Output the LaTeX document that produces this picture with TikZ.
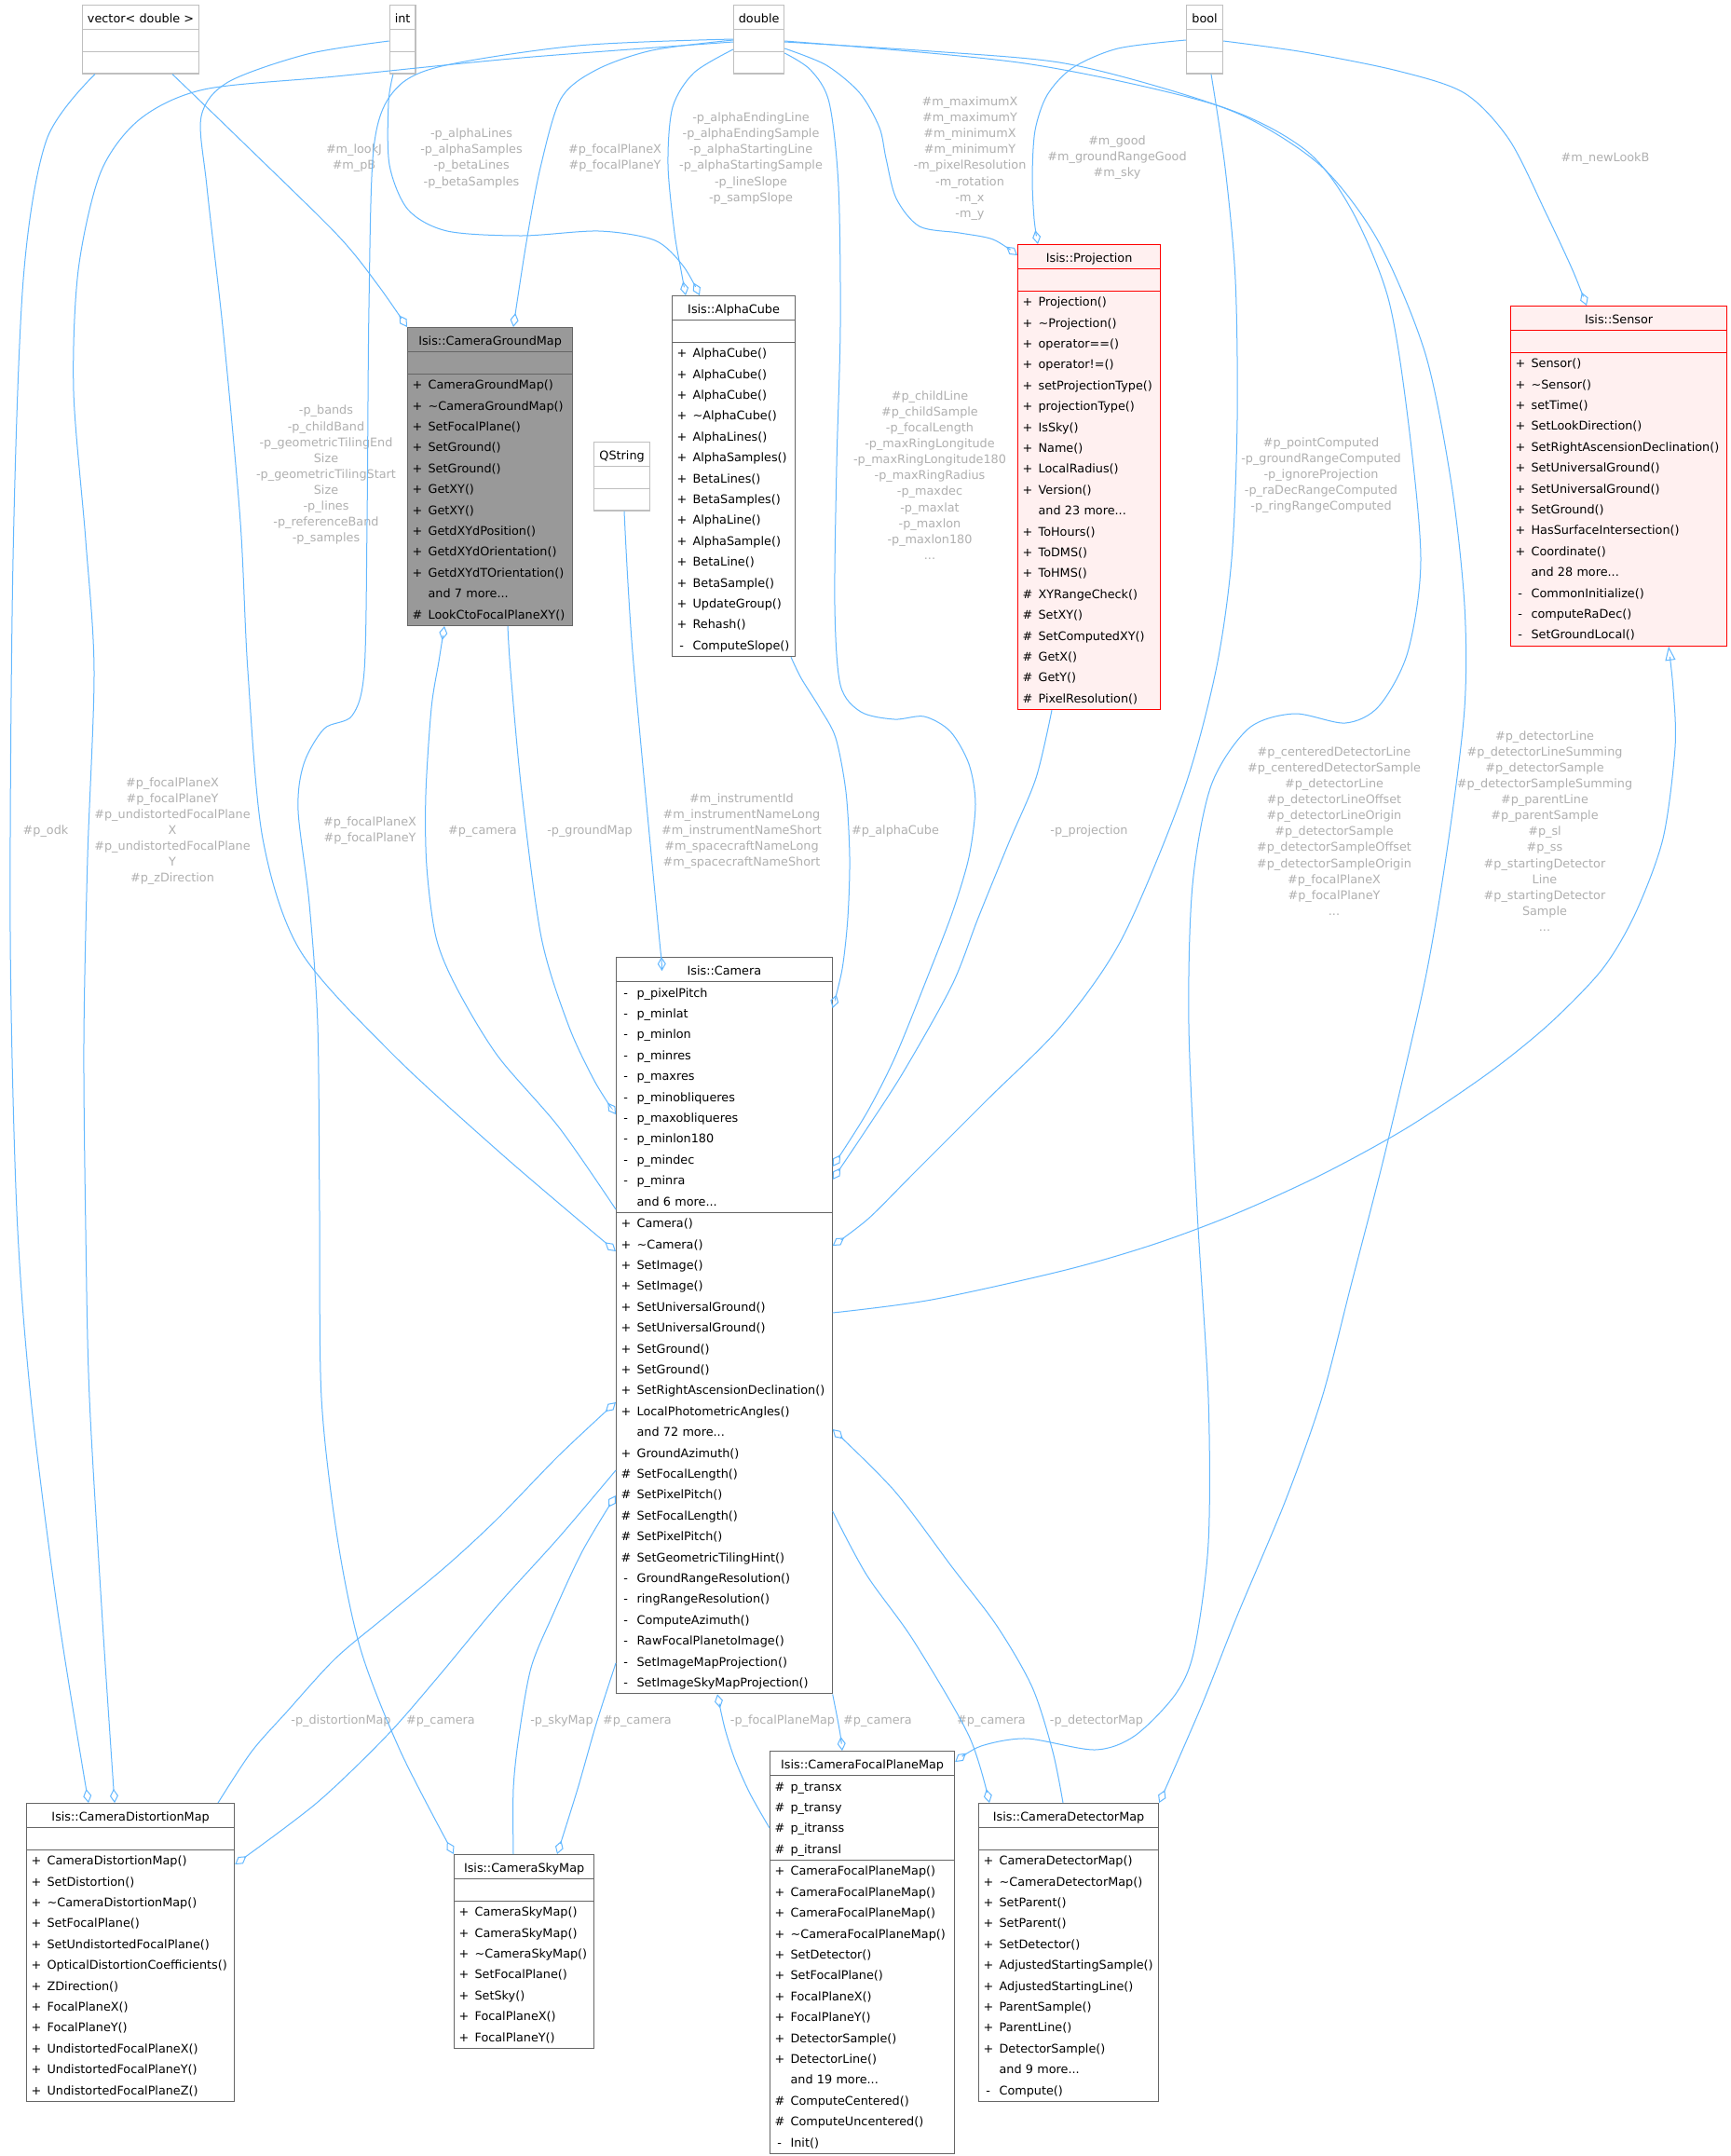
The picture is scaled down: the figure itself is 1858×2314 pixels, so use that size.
\documentclass[tikz,border=0pt]{standalone}
\usepackage{fontspec}
\setmainfont{DejaVu Sans}
\usetikzlibrary{shapes.multipart,arrows.meta}

\definecolor{edgeblue}{HTML}{63B8FF}
\definecolor{lblgrey}{HTML}{B0B0B0}
\definecolor{boxgrey}{HTML}{666666}
\definecolor{undocgrey}{HTML}{BFBFBF}
\definecolor{hlgrey}{HTML}{999999}
\definecolor{extred}{HTML}{FF0000}
\definecolor{extfill}{HTML}{FFF0F0}

\newcommand{\rowstrut}{\rule[-3.35pt]{0pt}{11.2pt}}
\newcommand{\titlestrut}{\rule[-3.5pt]{0pt}{12.5pt}}
\newcommand{\mrow}[2]{\rowstrut\makebox[8.5pt][l]{#1}#2}
\newcommand{\vpriv}{\hspace{1.4pt}-}
\newcommand{\boxtitle}[1]{\hfill\titlestrut #1\hfill\null}

\tikzset{
  classbox/.style={rectangle split, rectangle split parts=3, draw=boxgrey, line width=0.6pt,
    fill=white, inner xsep=2.5pt, inner ysep=0pt, anchor=north west, align=left,
    font=\fontsize{6.4}{11.2}\selectfont},
  typebox/.style={classbox, draw=undocgrey, inner xsep=0pt},
  extbox/.style={classbox, draw=extred, fill=extfill},
  mainbox/.style={classbox, fill=hlgrey},
  agg/.style={draw=edgeblue, line width=0.5pt, -{Diamond[open,length=7.5pt,width=4.5pt]}},
  inh/.style={draw=edgeblue, line width=0.5pt, -{Triangle[open,length=7.5pt,width=5.5pt]}},
  lbl/.style={text=lblgrey, align=center, inner sep=0pt, font=\fontsize{6.4}{8.55}\selectfont}
}

\begin{document}
\begin{tikzpicture}[x=0.5pt, y=-0.5pt]
\fill[white] (0,0) rectangle (1858,2314);
\useasboundingbox (0,0) rectangle (1858,2314);

% plain types
\node[typebox, text width=62.5pt] (vecd) at (88,5) {\boxtitle{vector< double >}\nodepart{two}\rowstrut\nodepart{three}\rowstrut};
\node[typebox, text width=13.8pt] (intt) at (417.7,5) {\boxtitle{int}\nodepart{two}\rowstrut\nodepart{three}\rowstrut};
\node[typebox, text width=27pt] (dbl) at (787,5) {\boxtitle{double}\nodepart{two}\rowstrut\nodepart{three}\rowstrut};
\node[typebox, text width=19.5pt] (boolt) at (1273,5) {\boxtitle{bool}\nodepart{two}\rowstrut\nodepart{three}\rowstrut};
\node[typebox, text width=30pt] (qstr) at (637,474) {\boxtitle{QString}\nodepart{two}\rowstrut\nodepart{three}\rowstrut};

% classes
\node[mainbox, text width=83.5pt] (gmap) at (437,351) {\boxtitle{Isis::CameraGroundMap}
  \nodepart{two}\rowstrut
  \nodepart{three}\mrow{+}{CameraGroundMap()}\\\mrow{+}{\textasciitilde CameraGroundMap()}\\\mrow{+}{SetFocalPlane()}\\
  \mrow{+}{SetGround()}\\\mrow{+}{SetGround()}\\\mrow{+}{GetXY()}\\\mrow{+}{GetXY()}\\\mrow{+}{GetdXYdPosition()}\\
  \mrow{+}{GetdXYdOrientation()}\\\mrow{+}{GetdXYdTOrientation()}\\\mrow{}{and 7 more...}\\\mrow{\#}{LookCtoFocalPlaneXY()}};

\node[classbox, text width=61pt] (acube) at (721,317) {\boxtitle{Isis::AlphaCube}
  \nodepart{two}\rowstrut
  \nodepart{three}\mrow{+}{AlphaCube()}\\\mrow{+}{AlphaCube()}\\\mrow{+}{AlphaCube()}\\\mrow{+}{\textasciitilde AlphaCube()}\\
  \mrow{+}{AlphaLines()}\\\mrow{+}{AlphaSamples()}\\\mrow{+}{BetaLines()}\\\mrow{+}{BetaSamples()}\\
  \mrow{+}{AlphaLine()}\\\mrow{+}{AlphaSample()}\\\mrow{+}{BetaLine()}\\\mrow{+}{BetaSample()}\\
  \mrow{+}{UpdateGroup()}\\\mrow{+}{Rehash()}\\\mrow{\vpriv}{ComputeSlope()}};

\node[extbox, text width=71.5pt] (proj) at (1092,262) {\boxtitle{Isis::Projection}
  \nodepart{two}\rowstrut
  \nodepart{three}\mrow{+}{Projection()}\\\mrow{+}{\textasciitilde Projection()}\\\mrow{+}{operator==()}\\\mrow{+}{operator!=()}\\
  \mrow{+}{setProjectionType()}\\\mrow{+}{projectionType()}\\\mrow{+}{IsSky()}\\\mrow{+}{Name()}\\
  \mrow{+}{LocalRadius()}\\\mrow{+}{Version()}\\\mrow{}{and 23 more...}\\\mrow{+}{ToHours()}\\
  \mrow{+}{ToDMS()}\\\mrow{+}{ToHMS()}\\\mrow{\#}{XYRangeCheck()}\\\mrow{\#}{SetXY()}\\
  \mrow{\#}{SetComputedXY()}\\\mrow{\#}{GetX()}\\\mrow{\#}{GetY()}\\\mrow{\#}{PixelResolution()}};

\node[extbox, text width=111pt] (sensor) at (1621,328) {\boxtitle{Isis::Sensor}
  \nodepart{two}\rowstrut
  \nodepart{three}\mrow{+}{Sensor()}\\\mrow{+}{\textasciitilde Sensor()}\\\mrow{+}{setTime()}\\\mrow{+}{SetLookDirection()}\\
  \mrow{+}{SetRightAscensionDeclination()}\\\mrow{+}{SetUniversalGround()}\\\mrow{+}{SetUniversalGround()}\\
  \mrow{+}{SetGround()}\\\mrow{+}{HasSurfaceIntersection()}\\\mrow{+}{Coordinate()}\\\mrow{}{and 28 more...}\\
  \mrow{\vpriv}{CommonInitialize()}\\\mrow{\vpriv}{computeRaDec()}\\\mrow{\vpriv}{SetGroundLocal()}};

\node[classbox, text width=110.75pt] (cam) at (661,1027) {\boxtitle{Isis::Camera}
  \nodepart{two}\mrow{\vpriv}{p\_pixelPitch}\\\mrow{\vpriv}{p\_minlat}\\\mrow{\vpriv}{p\_minlon}\\\mrow{\vpriv}{p\_minres}\\
  \mrow{\vpriv}{p\_maxres}\\\mrow{\vpriv}{p\_minobliqueres}\\\mrow{\vpriv}{p\_maxobliqueres}\\\mrow{\vpriv}{p\_minlon180}\\
  \mrow{\vpriv}{p\_mindec}\\\mrow{\vpriv}{p\_minra}\\\mrow{}{and 6 more...}
  \nodepart{three}\mrow{+}{Camera()}\\\mrow{+}{\textasciitilde Camera()}\\\mrow{+}{SetImage()}\\\mrow{+}{SetImage()}\\
  \mrow{+}{SetUniversalGround()}\\\mrow{+}{SetUniversalGround()}\\\mrow{+}{SetGround()}\\\mrow{+}{SetGround()}\\
  \mrow{+}{SetRightAscensionDeclination()}\\\mrow{+}{LocalPhotometricAngles()}\\\mrow{}{and 72 more...}\\
  \mrow{+}{GroundAzimuth()}\\\mrow{\#}{SetFocalLength()}\\\mrow{\#}{SetPixelPitch()}\\\mrow{\#}{SetFocalLength()}\\
  \mrow{\#}{SetPixelPitch()}\\\mrow{\#}{SetGeometricTilingHint()}\\\mrow{\vpriv}{GroundRangeResolution()}\\
  \mrow{\vpriv}{ringRangeResolution()}\\\mrow{\vpriv}{ComputeAzimuth()}\\\mrow{\vpriv}{RawFocalPlanetoImage()}\\
  \mrow{\vpriv}{SetImageMapProjection()}\\\mrow{\vpriv}{SetImageSkyMapProjection()}};

\node[classbox, text width=106.5pt] (dmap) at (28,1935) {\boxtitle{Isis::CameraDistortionMap}
  \nodepart{two}\rowstrut
  \nodepart{three}\mrow{+}{CameraDistortionMap()}\\\mrow{+}{SetDistortion()}\\\mrow{+}{\textasciitilde CameraDistortionMap()}\\
  \mrow{+}{SetFocalPlane()}\\\mrow{+}{SetUndistortedFocalPlane()}\\\mrow{+}{OpticalDistortionCoefficients()}\\
  \mrow{+}{ZDirection()}\\\mrow{+}{FocalPlaneX()}\\\mrow{+}{FocalPlaneY()}\\\mrow{+}{UndistortedFocalPlaneX()}\\
  \mrow{+}{UndistortedFocalPlaneY()}\\\mrow{+}{UndistortedFocalPlaneZ()}};

\node[classbox, text width=70pt] (smap) at (487,1990) {\boxtitle{Isis::CameraSkyMap}
  \nodepart{two}\rowstrut
  \nodepart{three}\mrow{+}{CameraSkyMap()}\\\mrow{+}{CameraSkyMap()}\\\mrow{+}{\textasciitilde CameraSkyMap()}\\
  \mrow{+}{SetFocalPlane()}\\\mrow{+}{SetSky()}\\\mrow{+}{FocalPlaneX()}\\\mrow{+}{FocalPlaneY()}};

\node[classbox, text width=94pt] (fpm) at (826,1879) {\boxtitle{Isis::CameraFocalPlaneMap}
  \nodepart{two}\mrow{\#}{p\_transx}\\\mrow{\#}{p\_transy}\\\mrow{\#}{p\_itranss}\\\mrow{\#}{p\_itransl}
  \nodepart{three}\mrow{+}{CameraFocalPlaneMap()}\\\mrow{+}{CameraFocalPlaneMap()}\\\mrow{+}{CameraFocalPlaneMap()}\\
  \mrow{+}{\textasciitilde CameraFocalPlaneMap()}\\\mrow{+}{SetDetector()}\\\mrow{+}{SetFocalPlane()}\\
  \mrow{+}{FocalPlaneX()}\\\mrow{+}{FocalPlaneY()}\\\mrow{+}{DetectorSample()}\\\mrow{+}{DetectorLine()}\\
  \mrow{}{and 19 more...}\\\mrow{\#}{ComputeCentered()}\\\mrow{\#}{ComputeUncentered()}\\\mrow{\vpriv}{Init()}};

\node[classbox, text width=91.5pt] (detm) at (1050,1935) {\boxtitle{Isis::CameraDetectorMap}
  \nodepart{two}\rowstrut
  \nodepart{three}\mrow{+}{CameraDetectorMap()}\\\mrow{+}{\textasciitilde CameraDetectorMap()}\\\mrow{+}{SetParent()}\\
  \mrow{+}{SetParent()}\\\mrow{+}{SetDetector()}\\\mrow{+}{AdjustedStartingSample()}\\\mrow{+}{AdjustedStartingLine()}\\
  \mrow{+}{ParentSample()}\\\mrow{+}{ParentLine()}\\\mrow{+}{DetectorSample()}\\\mrow{}{and 9 more...}\\\mrow{\vpriv}{Compute()}};

% edge labels
\node[lbl] (lLookJ) at (380,170) {\#m\_lookJ\\\#m\_pB};
\node[lbl] (lAlphaInt) at (506,170) {-p\_alphaLines\\-p\_alphaSamples\\-p\_betaLines\\-p\_betaSamples};
\node[lbl] (lGmapFp) at (660,170) {\#p\_focalPlaneX\\\#p\_focalPlaneY};
\node[lbl] (lAlphaDbl) at (806,170) {-p\_alphaEndingLine\\-p\_alphaEndingSample\\-p\_alphaStartingLine\\-p\_alphaStartingSample\\-p\_lineSlope\\-p\_sampSlope};
\node[lbl] (lProjDbl) at (1041,170) {\#m\_maximumX\\\#m\_maximumY\\\#m\_minimumX\\\#m\_minimumY\\-m\_pixelResolution\\-m\_rotation\\-m\_x\\-m\_y};
\node[lbl] (lProjBool) at (1199,169) {\#m\_good\\\#m\_groundRangeGood\\\#m\_sky};
\node[lbl] (lNewLook) at (1723,170) {\#m\_newLookB};
\node[lbl] (lBands) at (350,510) {-p\_bands\\-p\_childBand\\-p\_geometricTilingEnd\\Size\\-p\_geometricTilingStart\\Size\\-p\_lines\\-p\_referenceBand\\-p\_samples};
\node[lbl] (lChild) at (998,510) {\#p\_childLine\\\#p\_childSample\\-p\_focalLength\\-p\_maxRingLongitude\\-p\_maxRingLongitude180\\-p\_maxRingRadius\\-p\_maxdec\\-p\_maxlat\\-p\_maxlon\\-p\_maxlon180\\...};
\node[lbl] (lPoint) at (1418,510) {\#p\_pointComputed\\-p\_groundRangeComputed\\-p\_ignoreProjection\\-p\_raDecRangeComputed\\-p\_ringRangeComputed};
\node[lbl] (lOdk) at (49,892) {\#p\_odk};
\node[lbl] (lDmapFp) at (185,892) {\#p\_focalPlaneX\\\#p\_focalPlaneY\\\#p\_undistortedFocalPlane\\X\\\#p\_undistortedFocalPlane\\Y\\\#p\_zDirection};
\node[lbl] (lSmapFp) at (397,892) {\#p\_focalPlaneX\\\#p\_focalPlaneY};
\node[lbl] (lCamG) at (518,892) {\#p\_camera};
\node[lbl] (lGmap) at (633,892) {-p\_groundMap};
\node[lbl] (lInstr) at (796,892) {\#m\_instrumentId\\\#m\_instrumentNameLong\\\#m\_instrumentNameShort\\\#m\_spacecraftNameLong\\\#m\_spacecraftNameShort};
\node[lbl] (lAlpha) at (961,892) {\#p\_alphaCube};
\node[lbl] (lProj) at (1169,892) {-p\_projection};
\node[lbl] (lCenter) at (1432,892) {\#p\_centeredDetectorLine\\\#p\_centeredDetectorSample\\\#p\_detectorLine\\\#p\_detectorLineOffset\\\#p\_detectorLineOrigin\\\#p\_detectorSample\\\#p\_detectorSampleOffset\\\#p\_detectorSampleOrigin\\\#p\_focalPlaneX\\\#p\_focalPlaneY\\...};
\node[lbl] (lDetLine) at (1658,892) {\#p\_detectorLine\\\#p\_detectorLineSumming\\\#p\_detectorSample\\\#p\_detectorSampleSumming\\\#p\_parentLine\\\#p\_parentSample\\\#p\_sl\\\#p\_ss\\\#p\_startingDetector\\Line\\\#p\_startingDetector\\Sample\\...};
\node[lbl] (lDist) at (366,1847) {-p\_distortionMap};
\node[lbl] (lCamD) at (473,1847) {\#p\_camera};
\node[lbl] (lSky) at (603,1847) {-p\_skyMap};
\node[lbl] (lCamS) at (684,1847) {\#p\_camera};
\node[lbl] (lFpm) at (840,1847) {-p\_focalPlaneMap};
\node[lbl] (lCamF) at (942,1847) {\#p\_camera};
\node[lbl] (lCamDet) at (1064,1847) {\#p\_camera};
\node[lbl] (lDet) at (1177,1847) {-p\_detectorMap};

% edges into the upper classes
\draw[agg] plot[smooth] coordinates {(vecd.south -| 185,0) (260,152) (362,252) (405,305) (gmap.north west)};
\draw[agg] plot[smooth] coordinates {(dbl.west |- 0,43) (700,54) (640,75) (602,106) (580,180) (565,260) (gmap.north -| 551,0)};
\draw[agg] plot[smooth] coordinates {(intt.south -| 422,0) (417,110) (418,177) (438,225) (480,248) (560,253) (643,248) (703,258) (733,285) (acube.north -| 751,0)};
\draw[agg] plot[smooth] coordinates {(dbl.west |- 0,53) (745,78) (722,115) (717,177) (724,250) (731,290) (acube.north -| 736,0)};
\draw[agg] plot[smooth] coordinates {(dbl.east |- 0,52) (887,70) (923,100) (944,137) (951,170) (962,213) (987,243) (1030,250) (1066,257) (proj.west |- 0,274)};
\draw[agg] plot[smooth] coordinates {(boolt.west |- 0,43) (1200,52) (1151,73) (1124,102) (1111,140) (1108,190) (1110,235) (proj.north -| 1114,0)};
\draw[agg] plot[smooth] coordinates {(boolt.east |- 0,44) (1400,56) (1500,76) (1572,100) (1620,150) (1660,230) (1688,290) (sensor.north -| 1703,0)};

% edges into Camera
\draw[agg] plot[smooth] coordinates {(intt.west |- 0,44) (330,58) (245,88) (216,125) (222,200) (240,360) (258,560) (266,720) (282,900) (322,1020) (420,1130) (540,1240) (cam.west |- 0,1343)};
\draw[agg] plot[smooth] coordinates {(gmap.south -| 545,0) (548,720) (560,850) (581,1006) (610,1100) (638,1160) (cam.west |- 0,1196)};
\draw[agg] plot[smooth] coordinates {(qstr.south -| 670,0) (679,700) (706,990) (cam.north -| 710,0)};
\draw[agg] plot[smooth] coordinates {(acube.south -| 849,0) (860,728) (880,760) (897,792) (908,850) (912,920) (910,985) (904,1040) (cam.east |- 0,1082)};
\draw[agg] plot[smooth] coordinates {(dbl.east |- 0,57) (870,75) (890,110) (900,200) (902,350) (898,500) (896,650) (902,735) (924,764) (960,772) (992,769) (1020,785) (1040,820) (1047,863) (1040,920) (1022,980) (995,1050) (961,1134) (930,1195) (cam.east |- 0,1252)};
\draw[agg] plot[smooth] coordinates {(proj.south -| 1129,0) (1112,835) (1083,904) (1050,985) (1022,1057) (970,1150) (930,1212) (cam.east |- 0,1266)};
\draw[agg] plot[smooth] coordinates {(boolt.south -| 1300,0) (1315,180) (1326,300) (1328,450) (1322,600) (1305,720) (1270,850) (1205,1006) (1140,1100) (1060,1180) (979,1261) (932,1308) (cam.east |- 0,1337)};
\draw[agg] plot[smooth] coordinates {(dmap.north -| 234,0) (270,1880) (308,1837) (360,1780) (415,1734) (480,1680) (534,1630) (600,1562) (cam.west |- 0,1505)};
\draw[agg] plot[smooth] coordinates {(smap.north -| 551,0) (551,1920) (557,1863) (570,1790) (593,1734) (625,1665) (cam.west |- 0,1605)};
\draw[agg] plot[smooth] coordinates {(fpm.west |- 0,1962) (805,1925) (789,1889) (778,1855) (cam.south -| 770,0)};
\draw[agg] plot[smooth] coordinates {(detm.north -| 1141,0) (1130,1880) (1108,1811) (1070,1745) (1022,1682) (960,1600) (cam.east |- 0,1534)};

% edges out of Camera
\draw[agg] plot[smooth] coordinates {(cam.west |- 0,1298) (600,1210) (534,1133) (490,1060) (468,1006) (458,930) (457,853) (463,760) (471,710) (gmap.south -| 477,0)};
\draw[agg] plot[smooth] coordinates {(cam.west |- 0,1578) (600,1650) (534,1723) (470,1800) (415,1863) (340,1935) (dmap.east |- 0,2001)};
\draw[agg] plot[smooth] coordinates {(cam.west |- 0,1785) (640,1850) (620,1920) (smap.north -| 598,0)};
\draw[agg] plot[smooth] coordinates {(cam.south east) (898,1840) (902,1862) (fpm.north -| 904,0)};
\draw[agg] plot[smooth] coordinates {(cam.east |- 0,1622) (930,1690) (980,1760) (1040,1863) (detm.north -| 1062,0)};
\draw[inh] plot[smooth] coordinates {(cam.east |- 0,1409) (1000,1395) (1144,1363) (1240,1335) (1328,1302) (1420,1260) (1511,1210) (1600,1150) (1664,1098) (1720,1040) (1755,981) (1785,900) (1798,802) (1796,740) (sensor.south -| 1791,0)};

% edges into the lower maps
\draw[agg] plot[smooth] coordinates {(vecd.south -| 102,0) (50,150) (25,300) (14,600) (11,1000) (18,1300) (33,1500) (62,1730) (dmap.north -| 95,0)};
\draw[agg] plot[smooth] coordinates {(dbl.west |- 0,45) (560,62) (360,82) (219,96) (150,128) (108,185) (84,290) (79,420) (92,580) (101,720) (94,920) (90,1120) (92,1320) (96,1500) (110,1740) (dmap.north -| 123,0)};
\draw[agg] plot[smooth] coordinates {(dbl.west |- 0,42) (620,49) (470,72) (421,100) (401,160) (396,330) (394,560) (391,720) (378,768) (348,782) (326,820) (320,870) (332,970) (341,1100) (343,1300) (345,1500) (362,1650) (387,1770) (430,1880) (smap.north west)};
\draw[agg] plot[smooth] coordinates {(dbl.east |- 0,44) (1100,68) (1303,112) (1400,160) (1450,224) (1490,320) (1511,448) (1525,600) (1511,700) (1480,758) (1444,776) (1389,766) (1340,782) (1300,843) (1280,950) (1276,1100) (1285,1300) (1297,1500) (1297,1656) (1282,1770) (1262,1818) (1218,1863) (1175,1878) (1102,1866) (1053,1874) (fpm.east |- 0,1891)};
\draw[agg] plot[smooth] coordinates {(dbl.east |- 0,45) (1000,55) (1137,67) (1250,95) (1340,127) (1420,180) (1480,260) (1530,380) (1558,520) (1572,650) (1572,760) (1555,900) (1530,1050) (1487,1236) (1450,1380) (1419,1500) (1380,1610) (1328,1734) (1290,1830) (detm.north east)};
\end{tikzpicture}
\end{document}
